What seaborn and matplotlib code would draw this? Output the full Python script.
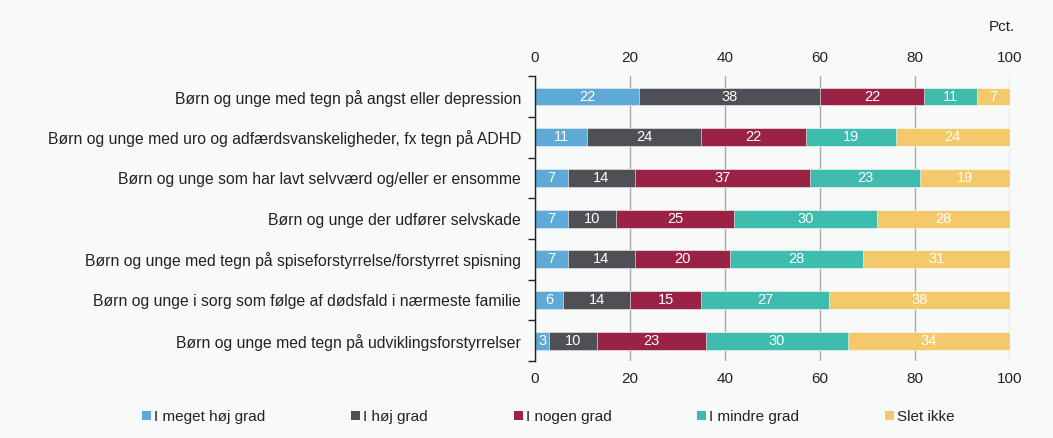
import numpy as np
import pandas as pd
import matplotlib.pyplot as plt
import seaborn as sns
from matplotlib.patches import Patch

# data
kategorier = [
    'Børn og unge med tegn på angst eller depression',
    'Børn og unge med uro og adfærdsvanskeligheder, fx tegn på ADHD',
    'Børn og unge som har lavt selvværd og/eller er ensomme',
    'Børn og unge der udfører selvskade',
    'Børn og unge med tegn på spiseforstyrrelse/forstyrret spisning',
    'Børn og unge i sorg som følge af dødsfald i nærmeste familie',
    'Børn og unge med tegn på udviklingsforstyrrelser',
]
serier = ['I meget høj grad', 'I høj grad', 'I nogen grad', 'I mindre grad', 'Slet ikke']
meget_hoej = [22, 11, 7, 7, 7, 6, 3]
hoej = [38, 24, 14, 10, 14, 14, 10]
nogen = [22, 22, 37, 25, 20, 15, 23]
mindre = [11, 19, 23, 30, 28, 27, 30]
slet_ikke = [7, 24, 19, 28, 31, 38, 34]
farver = ['#5EA9D6', '#4F5056', '#9A2345', '#3EBDAE', '#F4C96C']

df = pd.DataFrame({'kategori': kategorier, serier[0]: meget_hoej, serier[1]: hoej,
                   serier[2]: nogen, serier[3]: mindre, serier[4]: slet_ikke})
cum = df[serier].cumsum(axis=1)

sns.set_theme(style='white')
plt.rcParams['font.family'] = ['Liberation Sans', 'DejaVu Sans']
bg = '#F8F9F9'

fig = plt.figure(figsize=(10.53, 4.38), dpi=100, facecolor=bg)
ax = fig.add_axes([0.508, 0.176, 0.451, 0.65])
ax.set_facecolor(bg)
ax.set_axisbelow(True)
ax.grid(axis='x', color='#AAAAAA', linewidth=1)

# stablede bjælker: tegn de kumulerede summer bagfra
for s, c in reversed(list(zip(serier, farver))):
    sns.barplot(x=cum[s], y=df['kategori'], color=c, orient='h', width=0.44,
                edgecolor='white', linewidth=0.4, ax=ax, saturation=1)

for i in range(len(df)):
    venstre = 0
    for s in serier:
        v = df.loc[i, s]
        ax.text(venstre + v / 2, i, f'{v}', ha='center', va='center',
                color='white', fontsize=10.5)
        venstre += v

ax.set_xlim(0, 100)
ax.set_ylim(len(df) - 0.5, -0.5)
ax.set_xticks(np.arange(0, 101, 20))
ax.tick_params(axis='x', top=True, labeltop=True, bottom=False, labelbottom=True,
               length=0, labelsize=11, pad=8, colors='#222222')
ax.set_yticks(np.arange(-0.5, len(df)), minor=True)
ax.tick_params(axis='y', which='major', length=0, labelsize=11.3, pad=10, colors='#222222')
ax.tick_params(axis='y', which='minor', length=5, width=1, color='#222222', left=True)
ax.set_xlabel('')
ax.set_ylabel('')
for sp in ['top', 'right', 'bottom']:
    ax.spines[sp].set_visible(False)
ax.spines['left'].set_color('#222222')
ax.spines['left'].set_linewidth(1)

fig.text(0.951, 0.93, 'Pct.', fontsize=11, color='#222222', ha='center')

handles = [Patch(facecolor=c, edgecolor='none') for c in farver]
fig.legend(handles, serier, loc='center left', bbox_to_anchor=(0.122, 0.048), ncol=5,
           frameon=False, fontsize=11, handlelength=0.6, handleheight=0.6,
           handletextpad=0.2, columnspacing=5.6, labelcolor='#222222')

fig.savefig('out.png', dpi=100, facecolor=bg)
